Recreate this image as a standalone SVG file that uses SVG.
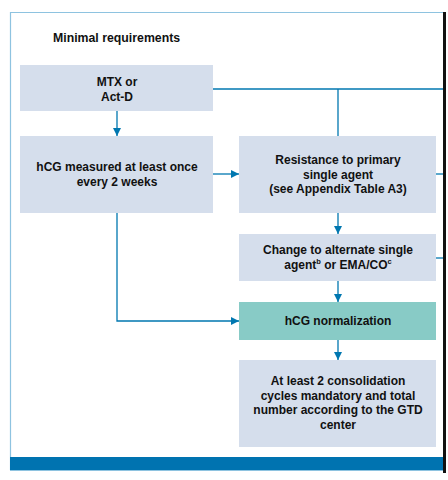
<svg xmlns="http://www.w3.org/2000/svg" width="448" height="480" viewBox="0 0 448 480">
<defs>
<marker id="ah" viewBox="0 0 10 10" refX="10" refY="5" markerWidth="8" markerHeight="8" markerUnits="userSpaceOnUse" orient="auto">
<path d="M0,0 L10,5 L0,10 z" fill="#0077b0"/>
</marker>
<style>
.box{fill:#d5deec;}
.teal{fill:#88cbc6;}
.t{font-family:"Liberation Sans",Arial,sans-serif;font-weight:bold;font-size:12px;fill:#111;text-anchor:middle;}
.c{stroke:#0077b0;stroke-width:1.3;fill:none;}
.a{marker-end:url(#ah);}
</style>
</defs>
<rect x="0" y="0" width="448" height="480" fill="#fff"/>
<g id="frame">
<path d="M443,12.5 H10.5 V470" fill="none" stroke="#8ec3e0" stroke-width="1.2"/>
<rect x="10" y="457" width="433" height="13" fill="#0073b0"/>
<line x1="10" y1="470.5" x2="443" y2="470.5" stroke="#8ec3e0" stroke-width="1"/>
<rect x="443" y="12" width="3" height="461" fill="#111"/>
</g>
<text class="t" x="53" y="42" style="text-anchor:start;font-size:12.3px">Minimal requirements</text>
<g id="connectors">
<path class="c" d="M213,89 H443"/>
<path class="c" d="M338,89 V136"/>
<path class="c" d="M436,174 H443"/>
<path class="c" d="M436,258 H443"/>
<path class="c a" d="M117,111 V136"/>
<path class="c a" d="M213,174 H239"/>
<path class="c a" d="M117,213 V321 H239"/>
<path class="c a" d="M338,213 V234"/>
<path class="c a" d="M338,281 V302"/>
<path class="c a" d="M338,340 V360"/>
</g>
<g id="mtx">
<rect class="box" x="20" y="65" width="193" height="46"/>
<text class="t" x="117" y="86">MTX or</text>
<text class="t" x="117" y="101">Act-D</text>
</g>
<g id="hcg-measured">
<rect class="box" x="20" y="136" width="193" height="77"/>
<text class="t" x="117" y="171">hCG measured at least once</text>
<text class="t" x="117" y="186">every 2 weeks</text>
</g>
<g id="resistance">
<rect class="box" x="239" y="136" width="197" height="77"/>
<text class="t" x="338" y="164">Resistance to primary</text>
<text class="t" x="338" y="178.5">single agent</text>
<text class="t" x="338" y="193">(see Appendix Table A3)</text>
</g>
<g id="change">
<rect class="box" x="239" y="234" width="197" height="47"/>
<text class="t" x="338" y="254">Change to alternate single</text>
<text class="t" x="338" y="268.5">agent<tspan font-size="7.5" dy="-4.5">b</tspan><tspan dy="4.5"> or EMA/CO</tspan><tspan font-size="7.5" dy="-4.5">c</tspan></text>
</g>
<g id="hcg-normalization">
<rect class="teal" x="239" y="302" width="197" height="38"/>
<text class="t" x="338" y="325">hCG normalization</text>
</g>
<g id="consolidation">
<rect class="box" x="239" y="360" width="197" height="87"/>
<text class="t" x="338" y="385">At least 2 consolidation</text>
<text class="t" x="338" y="399.5">cycles mandatory and total</text>
<text class="t" x="338" y="414">number according to the GTD</text>
<text class="t" x="338" y="428.5">center</text>
</g>
</svg>
